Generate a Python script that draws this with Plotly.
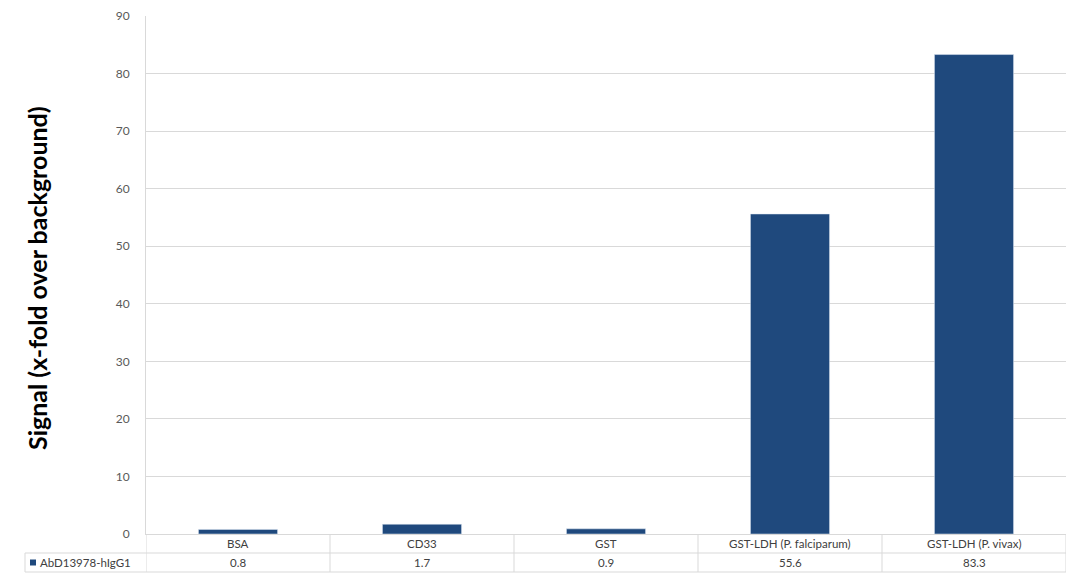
import plotly.graph_objects as go

categories = ["BSA", "CD33", "GST", "GST-LDH (P. falciparum)", "GST-LDH (P. vivax)"]
values = [0.8, 1.7, 0.9, 55.6, 83.3]
value_labels = ["0.8", "1.7", "0.9", "55.6", "83.3"]
series_name = "AbD13978-hIgG1"
y_ticks = [0, 10, 20, 30, 40, 50, 60, 70, 80, 90]

BAR = "#1F497D"
GRID = "#D9D9D9"
TXT = "#404040"
FONT = "Lato"

L, R, T, B = 146, 14, 16, 53
W, H = 1080, 587
ph = H - T - B
pw = W - L - R

def py(pix):  # pixel y -> paper y
    return (H - B - pix) / ph

def px(pix):
    return (pix - L) / pw

row1_mid = py(543.5)
row2_mid = py(562.5)
y553 = py(553)
y572 = py(572)

fig = go.Figure()
fig.add_trace(go.Bar(x=list(range(len(categories))), y=values, marker_color=BAR,
                     name=series_name, showlegend=False, width=0.43))

shapes = []
line = dict(color=GRID, width=1)
shapes.append(dict(type="line", xref="paper", yref="paper", x0=px(25), x1=1, y0=y553, y1=y553, line=line))
shapes.append(dict(type="line", xref="paper", yref="paper", x0=px(25), x1=1, y0=y572, y1=y572, line=line))
shapes.append(dict(type="line", xref="paper", yref="paper", x0=px(25), x1=px(25), y0=y553, y1=y572, line=line))
for i in range(len(categories) + 1):
    xv = i - 0.5
    shapes.append(dict(type="line", xref="x", yref="paper", x0=xv, x1=xv, y0=0, y1=y572, line=line))
shapes.append(dict(type="rect", xref="paper", yref="paper", x0=px(30), x1=px(36),
                   y0=py(565.5), y1=py(559.5), fillcolor=BAR, line=dict(width=0)))

annotations = []
for i, (c, v) in enumerate(zip(categories, value_labels)):
    annotations.append(dict(x=i, y=row1_mid, xref="x", yref="paper", text=c, showarrow=False,
                            font=dict(family=FONT, size=11.5, color=TXT), yanchor="middle"))
    annotations.append(dict(x=i, y=row2_mid, xref="x", yref="paper", text=v, showarrow=False,
                            font=dict(family=FONT, size=11.5, color=TXT), yanchor="middle"))
annotations.append(dict(x=px(38), y=row2_mid, xref="paper", yref="paper", text=series_name,
                        showarrow=False, xanchor="left", yanchor="middle",
                        font=dict(family=FONT, size=11.5, color=TXT)))
annotations.append(dict(x=px(37), y=py(278), xref="paper", yref="paper",
                        text="<b>Signal (x-fold over background)</b>", textangle=-90,
                        showarrow=False, xanchor="center", yanchor="middle",
                        font=dict(family=FONT, size=25, color="#000000")))

fig.update_layout(
    width=W, height=H,
    margin=dict(l=L, r=R, t=T, b=B),
    plot_bgcolor="white", paper_bgcolor="white",
    shapes=shapes, annotations=annotations,
    xaxis=dict(range=[-0.5, len(categories) - 0.5], showticklabels=False, showgrid=False,
               zeroline=False, showline=True, linecolor=GRID, fixedrange=True),
    yaxis=dict(range=[0, 90], tickvals=y_ticks, showgrid=True, gridcolor=GRID, gridwidth=1,
               zeroline=False, showline=True, linecolor=GRID, ticks="", ticklen=0,
               ticklabelstandoff=13, automargin=False,
               tickfont=dict(family=FONT, size=12, color="#595959")),
)
fig.write_html("out.html", config={"displayModeBar": False},
               post_script="document.body.style.margin='0';")
